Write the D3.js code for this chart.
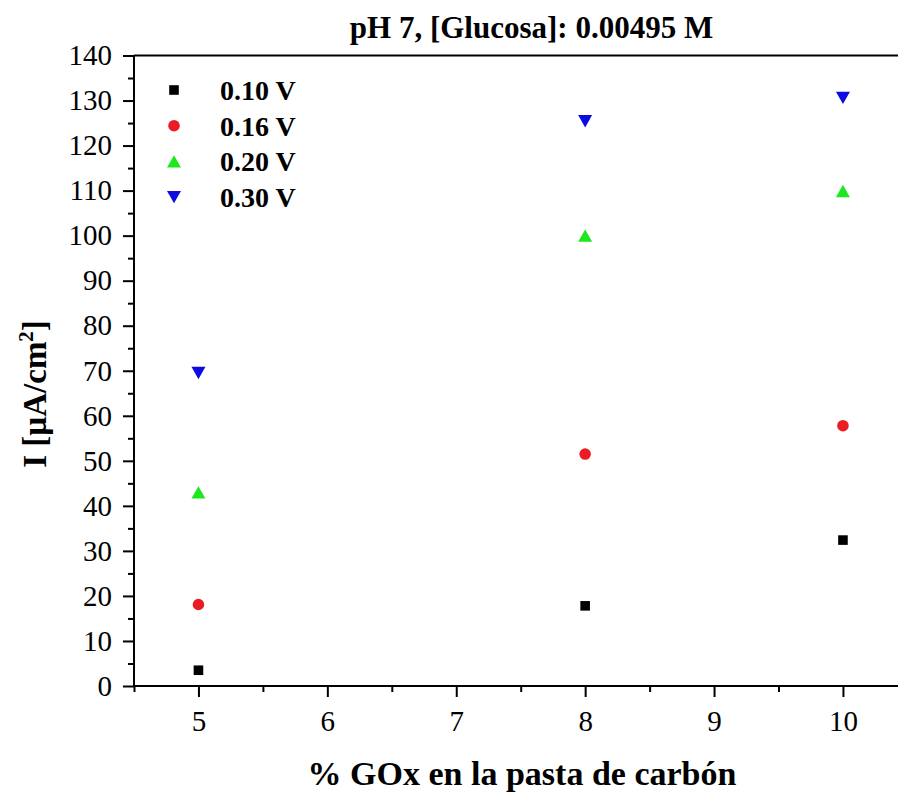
<!DOCTYPE html>
<html>
<head>
<meta charset="utf-8">
<script src="https://cdn.jsdelivr.net/npm/d3@7"></script>
<style>
  html, body { margin: 0; padding: 0; background: #fff; }
  svg { display: block; }
  svg text { font-family: "Liberation Serif", "Times New Roman", serif !important; fill: #000; }
</style>
</head>
<body>
<svg id="chart" width="898" height="792"></svg>
<script>
// Enzyme loading (% GOx in the carbon paste) for each measurement
const goxPercent = [5, 8, 10];

// Current density (µA/cm²) at each applied potential
const series010 = [3.5, 17.8, 32.4];
const series016 = [18.1, 51.5, 57.8];
const series020 = [43.0, 100.0, 109.9];
const series030 = [69.5, 125.4, 130.6];

const seriesNames = ["0.10 V", "0.16 V", "0.20 V", "0.30 V"];
const seriesValues = [series010, series016, series020, series030];
const seriesColors = ["#000000", "#ec1c24", "#1de81d", "#0c0ce0"];
const seriesShapes = ["square", "circle", "triangleUp", "triangleDown"];

const xTicks = [5, 6, 7, 8, 9, 10];
const yTicks = [0, 10, 20, 30, 40, 50, 60, 70, 80, 90, 100, 110, 120, 130, 140];

const titleText = "pH 7, [Glucosa]: 0.00495 M";
const xTitle = "% GOx en la pasta de carbón";

const svg = d3.select("#chart");
const W = 898, H = 792;
const plotLeft = 134, plotTop = 55.5, plotBottom = 686;

const x = d3.scaleLinear().domain([4.5, 10.5]).range([plotLeft, plotLeft + 6 * 128.9]);
const y = d3.scaleLinear().domain([0, 140]).range([plotBottom, plotTop]);

// marker shapes, centred on their bounding box
function shapePath(kind) {
  if (kind === "square") return "M-4.8,-4.8H4.8V4.8H-4.8Z";
  if (kind === "triangleUp") return "M0,-6.2L7,6.2L-7,6.2Z";
  if (kind === "triangleDown") return "M0,6.2L7,-6.2L-7,-6.2Z";
  return d3.arc()({innerRadius: 0, outerRadius: 5.8, startAngle: 0, endAngle: 2 * Math.PI});
}

const g = svg.append("g");

// frame: top line and the two axes
g.append("line").attr("x1", plotLeft).attr("x2", W).attr("y1", plotTop).attr("y2", plotTop)
  .attr("stroke", "#000").attr("stroke-width", 2);

// Y axis: major ticks with labels, minor ticks between
const yAxis = d3.axisLeft(y).tickValues(yTicks).tickSize(11).tickPadding(11).tickFormat(d3.format("d"));
const yG = g.append("g").attr("transform", `translate(${plotLeft},0)`).call(yAxis);
yG.attr("font-family", null);
yG.select(".domain").attr("stroke-width", 2).attr("d", `M0,${plotTop}V${plotBottom}`);
yG.selectAll(".tick line").attr("stroke-width", 2);
yG.selectAll(".tick text").attr("font-size", 29);
const yMinor = d3.axisLeft(y).tickValues(d3.range(5, 140, 10)).tickSize(6).tickFormat("");
const yMG = g.append("g").attr("transform", `translate(${plotLeft},0)`).call(yMinor);
yMG.select(".domain").remove();
yMG.selectAll(".tick line").attr("stroke-width", 2);

// X axis
const xAxis = d3.axisBottom(x).tickValues(xTicks).tickSize(11).tickPadding(13).tickFormat(d3.format("d"));
const xG = g.append("g").attr("transform", `translate(0,${plotBottom})`).call(xAxis);
xG.attr("font-family", null);
xG.select(".domain").attr("stroke-width", 2).attr("d", `M${plotLeft},0H${W}`);
xG.selectAll(".tick line").attr("stroke-width", 2);
xG.selectAll(".tick text").attr("font-size", 29);
const xMinor = d3.axisBottom(x).tickValues([4.5, 5.5, 6.5, 7.5, 8.5, 9.5]).tickSize(6).tickFormat("");
const xMG = g.append("g").attr("transform", `translate(0,${plotBottom})`).call(xMinor);
xMG.select(".domain").remove();
xMG.selectAll(".tick line").attr("stroke-width", 2);

// data points
seriesValues.forEach((vals, i) => {
  g.append("g").selectAll("path")
    .data(vals.map((v, j) => ({x: goxPercent[j], y: v})))
    .join("path")
    .attr("d", shapePath(seriesShapes[i]))
    .attr("transform", d => `translate(${x(d.x)},${y(d.y)})`)
    .attr("fill", seriesColors[i]);
});

// legend
const legend = g.append("g");
seriesNames.forEach((name, i) => {
  const cy = 90 + i * 35.7;
  legend.append("path").attr("d", shapePath(seriesShapes[i]))
    .attr("transform", `translate(174,${cy})`).attr("fill", seriesColors[i]);
  legend.append("text").attr("x", 220).attr("y", cy + 10)
    .attr("font-size", 28).attr("font-weight", "bold").text(name);
});

// title
svg.append("text").attr("x", 531.5).attr("y", 38).attr("text-anchor", "middle")
  .attr("font-size", 31).attr("font-weight", "bold").text(titleText);

// axis titles
svg.append("text").attr("x", 522).attr("y", 785).attr("text-anchor", "middle")
  .attr("font-size", 34).attr("font-weight", "bold").text(xTitle);

const yt = svg.append("text").attr("transform", "translate(46,394) rotate(-90)")
  .attr("text-anchor", "middle").attr("font-size", 33).attr("font-weight", "bold");
yt.append("tspan").text("I [µA/cm");
yt.append("tspan").attr("font-size", 21).attr("dy", -13).text("2");
yt.append("tspan").attr("dy", 13).text("]");
</script>
</body>
</html>
